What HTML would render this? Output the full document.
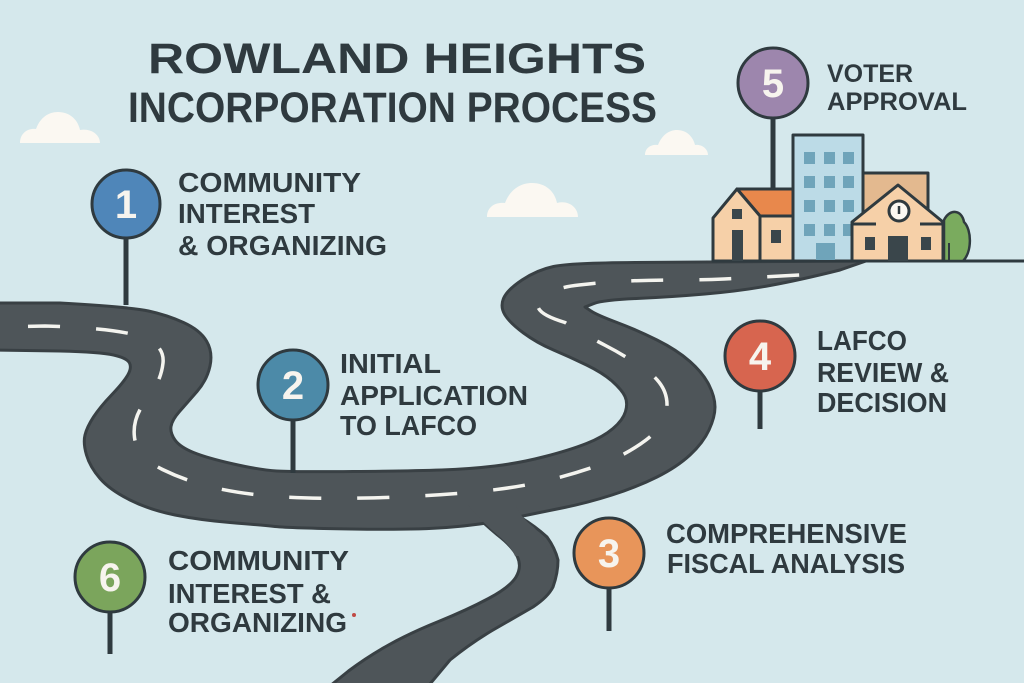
<!DOCTYPE html>
<html><head><meta charset="utf-8"><style>
html,body{margin:0;padding:0;background:#d5e8ec;}
svg{display:block;}
text{font-family:"Liberation Sans",Arial,sans-serif;font-weight:bold;}
</style></head><body>
<svg width="1024" height="683" viewBox="0 0 1024 683" xmlns="http://www.w3.org/2000/svg">
<rect width="1024" height="683" fill="#d5e8ec"/>

<!-- clouds -->
<g fill="#fbf8f2">
<path d="M20 143 C20 133 28 128 36 129 C40 118 48 112 58 112 C70 112 78 120 80 130 C90 128 100 134 100 143 Z"/>
<path d="M487 217 C487 207 495 202 505 203 C510 190 520 183 532 183 C546 183 555 192 557 203 C568 200 578 207 578 217 Z"/>
<path d="M645 155 C645 148 651 144 658 145 C662 135 669 130 677 130 C687 130 693 137 695 145 C702 144 708 149 708 155 Z"/>
</g>

<!-- title -->
<g fill="#2f3a3f">
<text x="148" y="73" font-size="43" textLength="498" lengthAdjust="spacingAndGlyphs">ROWLAND HEIGHTS</text>
<text x="128" y="122" font-size="43" textLength="529" lengthAdjust="spacingAndGlyphs">INCORPORATION PROCESS</text>
</g>

<!-- branch road (outline+fill) -->
<path id="branch" fill="#4e5559" stroke="#394044" stroke-width="3" stroke-linejoin="round" d="M465 505 Q482 522 497.5 535 Q513 547 517.5 557 Q522 567 516 577 Q510 587 488.5 598.5 Q467 610 438.5 621.5 Q410 633 388.5 645 Q367 657 348.5 671 L325 690 L425 690 L450 660 Q471 643 493 630 Q513 618.5 533 607 Q548 597 553 587 Q558 573 558 560 Q555 548 547 537 Q535 526 520 517 L518 505 Z"/>

<!-- main road -->
<path fill="#4e5559" stroke="#394044" stroke-width="3" stroke-linejoin="round" d="M-5 303 L60 303 Q130 307 148.5 311 Q167 315 183.5 322.5 Q200 330 206.5 341 Q213 352 210 366 Q207 380 197 391.5 Q187 403 179.5 411.5 Q172 420 171 426.5 Q170 433 175 440 Q180 447 193.5 452.5 Q207 458 233.5 464 Q260 470 276.5 471 Q293 472 353 471.5 Q413 471 441.5 470 Q470 469 495 466 Q520 463 545 456.5 Q570 450 586.5 443.5 Q603 437 613 428.5 Q623 420 625.5 411.5 Q628 403 625 396.5 Q622 390 612.5 381.5 Q603 373 586.5 365 Q570 357 553.5 350 Q537 343 523.5 333 Q510 323 505 315 Q500 307 503.5 298.5 Q507 290 522 280 Q537 270 553.5 266.5 Q570 263 635 262.5 L866 261 L840 270 Q800 280 770 285.5 Q740 291 705 294 Q670 297 636.5 298.5 Q603 300 594 303.5 L585 307 L591 311 Q597 315 617 322.5 Q637 330 657 340 Q677 350 690 361.5 Q703 373 709 385 Q715 397 715 407 Q715 417 709 430 Q703 443 690 455 Q677 467 657 477 Q637 487 612 495 Q587 503 562 508 Q537 513 508.5 519 Q480 525 446.5 527.5 Q413 530 351.5 529 Q290 528 275 526.5 Q260 525 230 522.5 Q200 520 175 515 Q150 510 130 500 Q110 490 100 478.5 Q90 467 86.5 455 Q83 443 85 435 Q87 427 93.5 417 Q100 407 111.5 395 Q123 383 127.5 375.5 Q132 368 129.5 363 Q127 358 113.5 355 Q100 352 60 351 L-5 350 Z"/>

<!-- branch fill again to merge junction -->
<path fill="#4e5559" d="M468 505 Q482 522 497.5 535 Q511 546 515 556 L550 556 Q546 540 533.5 527 Q520 517 516 505 Z"/>

<!-- dashes -->
<path fill="none" stroke="#f4f4ef" stroke-width="3.5" stroke-dasharray="32 36" stroke-dashoffset="35" d="M-5 327 L45 326 Q113 328 139 336 Q165 344 163 363 Q161 382 146.5 400 Q132 418 134.5 437.5 Q137 457 162.5 469.5 Q188 482 218 488.5 Q248 495 284 497 Q320 499 366 498 Q412 497 457 493.5 Q502 490 533.5 483.5 Q565 477 595 466.5 Q625 456 646 440 Q667 424 667 404.5 Q667 385 646.5 370.5 Q626 356 605.5 345.5 Q585 335 565 322.5 Q530 312 540 300 Q550 288 579 285 Q605 282 628 281 Q651 280 675.5 280 Q700 280 724 279 L800 275"/>

<!-- ground line -->
<line x1="855" y1="261" x2="1024" y2="261" stroke="#2f3a3f" stroke-width="3"/>

<!-- pin 5 stem -->
<line x1="773" y1="115" x2="773" y2="192" stroke="#2f3a3f" stroke-width="5"/>

<!-- buildings -->
<g stroke="#2f3a3f" stroke-width="3" stroke-linejoin="round">
<rect x="863" y="173" width="65" height="88" fill="#e3b98f"/>
<rect x="793" y="135" width="70" height="126" fill="#bcdbe7"/>
<polygon points="737,189 793,189 793,216 760,216" fill="#e8884c"/>
<rect x="760" y="216" width="33" height="45" fill="#f6d0a8"/>
<polygon points="713,261 713,218 737,189 760,216 760,261" fill="#f6d0a8"/>
</g>
<g fill="#6fa4ba">
<rect x="804" y="152" width="11" height="12"/><rect x="824" y="152" width="11" height="12"/><rect x="843" y="152" width="11" height="12"/>
<rect x="804" y="176" width="11" height="12"/><rect x="824" y="176" width="11" height="12"/><rect x="843" y="176" width="11" height="12"/>
<rect x="804" y="200" width="11" height="12"/><rect x="824" y="200" width="11" height="12"/><rect x="843" y="200" width="11" height="12"/>
<rect x="804" y="224" width="11" height="12"/><rect x="824" y="224" width="11" height="12"/><rect x="843" y="224" width="11" height="12"/>
<rect x="816" y="243" width="19" height="17"/>
</g>
<g fill="#3a464b">
<rect x="732" y="209" width="10" height="10"/>
<rect x="732" y="230" width="11" height="31"/>
<rect x="771" y="230" width="10" height="13"/>
</g>
<g stroke="#2f3a3f" stroke-width="3" stroke-linejoin="round">
<polygon points="852,261 852,222 898,185 943,222 943,261" fill="#f6d0a8"/>
<line x1="852" y1="224" x2="876" y2="224"/>
<line x1="920" y1="224" x2="943" y2="224"/>
<circle cx="899" cy="211" r="10" fill="#fbf8f2"/>
<line x1="899" y1="206" x2="899" y2="214" stroke-width="2.5"/>
<path d="M944 261 L944 220 C950 208 962 210 964 222 C972 230 972 252 963 261 Z" fill="#7aab5e" stroke-width="2.5"/>
<line x1="949" y1="243" x2="949" y2="260" stroke-width="2"/>
</g>
<g fill="#3a464b">
<rect x="865" y="237" width="10" height="13"/>
<rect x="921" y="237" width="10" height="13"/>
<rect x="888" y="236" width="20" height="25"/>
</g>

<!-- pin stems -->
<g stroke="#2f3a3f" stroke-width="5">
<line x1="126" y1="236" x2="126" y2="305"/>
<line x1="293" y1="418" x2="293" y2="473"/>
<line x1="760" y1="388" x2="760" y2="429"/>
<line x1="609" y1="586" x2="609" y2="631"/>
<line x1="110" y1="610" x2="110" y2="654"/>
</g>

<!-- pin circles -->
<g stroke="#2f3a3f" stroke-width="3">
<circle cx="126" cy="204" r="34" fill="#4f86b9"/>
<circle cx="293" cy="385" r="35" fill="#4c8aa8"/>
<circle cx="609" cy="553" r="35" fill="#e8955a"/>
<circle cx="760" cy="356" r="35" fill="#d7654f"/>
<circle cx="773" cy="83" r="35" fill="#9d86ad"/>
<circle cx="110" cy="577" r="35" fill="#7ba55c"/>
</g>
<g fill="#f7f4ee" font-size="40" text-anchor="middle">
<text x="126" y="218">1</text>
<text x="293" y="399">2</text>
<text x="609" y="567">3</text>
<text x="760" y="370">4</text>
<text x="773" y="97">5</text>
<text x="110" y="591">6</text>
</g>

<!-- labels -->
<g fill="#2f3a3f" font-size="28">
<text x="178" y="192" textLength="183" lengthAdjust="spacingAndGlyphs">COMMUNITY</text>
<text x="178" y="223" textLength="137" lengthAdjust="spacingAndGlyphs">INTEREST</text>
<text x="178" y="255" textLength="209" lengthAdjust="spacingAndGlyphs">&amp; ORGANIZING</text>

<text x="340" y="373" textLength="101" lengthAdjust="spacingAndGlyphs">INITIAL</text>
<text x="340" y="405" textLength="188" lengthAdjust="spacingAndGlyphs">APPLICATION</text>
<text x="340" y="435" textLength="137" lengthAdjust="spacingAndGlyphs">TO LAFCO</text>

<text x="168" y="570" textLength="181" lengthAdjust="spacingAndGlyphs">COMMUNITY</text>
<text x="168" y="603" textLength="163" lengthAdjust="spacingAndGlyphs">INTEREST &amp;</text>
<text x="168" y="632" textLength="179" lengthAdjust="spacingAndGlyphs">ORGANIZING</text>

<text x="666" y="543" textLength="241" lengthAdjust="spacingAndGlyphs">COMPREHENSIVE</text>
<text x="667" y="573" textLength="238" lengthAdjust="spacingAndGlyphs">FISCAL ANALYSIS</text>

<text x="817" y="350" textLength="90" lengthAdjust="spacingAndGlyphs">LAFCO</text>
<text x="817" y="382" textLength="132" lengthAdjust="spacingAndGlyphs">REVIEW &amp;</text>
<text x="817" y="412" textLength="130" lengthAdjust="spacingAndGlyphs">DECISION</text>
</g>
<g fill="#2f3a3f" font-size="25">
<text x="827" y="82" textLength="86" lengthAdjust="spacingAndGlyphs">VOTER</text>
<text x="827" y="110" textLength="140" lengthAdjust="spacingAndGlyphs">APPROVAL</text>
</g>
<circle cx="354" cy="615" r="2" fill="#c04a45"/>
</svg>
</body></html>
